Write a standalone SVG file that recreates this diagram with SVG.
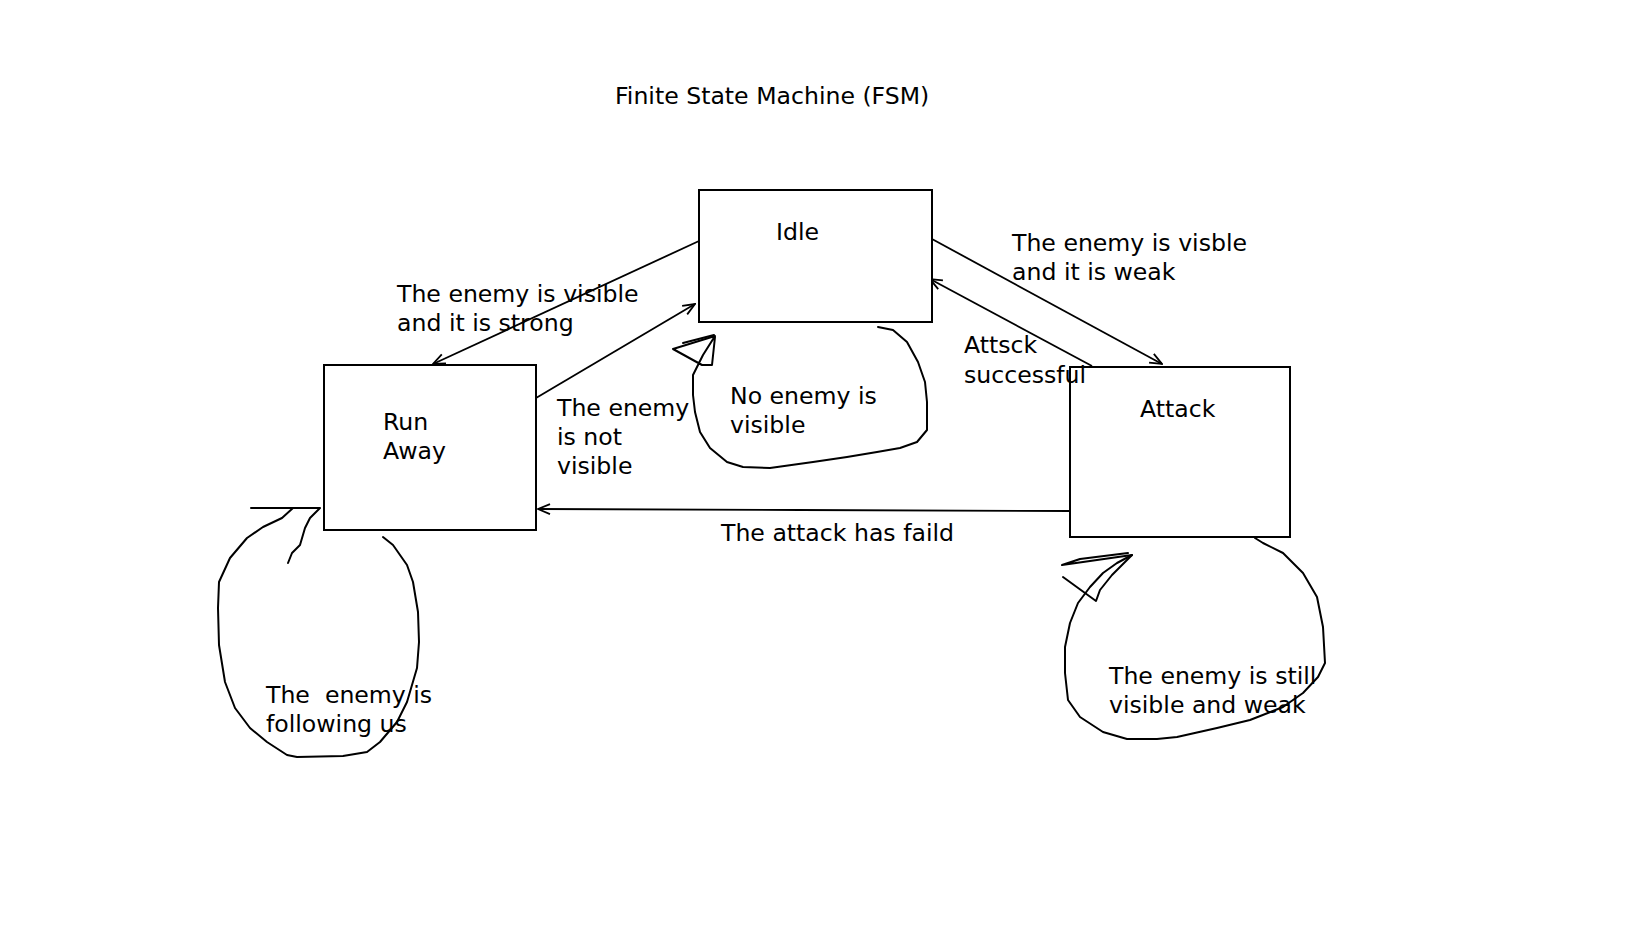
<svg xmlns="http://www.w3.org/2000/svg" width="1648" height="927" viewBox="0 0 1648 927">
<style>
text { font-family: "DejaVu Sans", Verdana, sans-serif; font-size: 23.6px; fill: #000; }
.box { fill: #fff; stroke: #000; stroke-width: 2; }
.edge { fill: none; stroke: #000; stroke-width: 1.8; }
.hand { fill: none; stroke: #000; stroke-width: 2; stroke-linejoin: round; stroke-linecap: round; }
</style>
<defs>
<marker id="arr" viewBox="0 0 14 12" refX="13" refY="6" markerWidth="14" markerHeight="12" markerUnits="userSpaceOnUse" orient="auto">
<path d="M1,1 L13,6 L1,11" fill="none" stroke="#000" stroke-width="1.8"/>
</marker>
</defs>
<rect width="1648" height="927" fill="#fff"/>
<text x="615" y="104">Finite State Machine (FSM)</text>

<g id="connectors">
<line class="edge" x1="699" y1="241" x2="433" y2="364" marker-end="url(#arr)"/>
<line class="edge" x1="536" y1="398" x2="695" y2="304" marker-end="url(#arr)"/>
<line class="edge" x1="932" y1="239" x2="1162" y2="364" marker-end="url(#arr)"/>
<line class="edge" x1="1092" y1="366" x2="930" y2="279" marker-end="url(#arr)"/>
<polyline class="edge" points="1069,511 800,510 538,509" marker-end="url(#arr)"/>
<path class="hand" d="M878,327 L893,330 L907,342 L918,362 L925,382 L927,402 L927,430 L917,442 L900,448 L877,452 L847,457 L813,462 L770,468 L743,467 L727,462 L710,448 L700,432 L695,412 L693,395 L693,375 L703,355 L715,336 L673,349 L702,365 L712,365 L715,337"/>
<path class="hand" d="M683,343 L714,335"/>
<path class="hand" d="M251,508 L320,508 L310,518 L305,528 L300,545 L292,553 L288,563"/>
<path class="hand" d="M293,508 L282,518 L263,527 L247,538 L230,558 L219,582 L218,608 L219,645 L225,682 L235,708 L250,728 L267,742 L287,755 L297,757 L343,756 L367,752 L380,742 L397,722 L407,702 L417,668 L419,642 L418,612 L413,582 L407,565 L393,545 L383,537"/>
<path class="hand" d="M1255,538 L1263,543 L1283,553 L1303,573 L1317,597 L1323,627 L1325,663 L1318,677 L1303,693 L1283,707 L1250,720 L1217,728 L1177,737 L1157,739 L1127,739 L1103,732 L1080,717 L1068,700 L1065,673 L1065,647 L1070,623 L1078,603 L1090,587 L1103,573 L1117,563 L1132,555"/>
<path class="hand" d="M1063,577 L1096,601 L1100,590 L1112,575 L1132,555 L1062,565 L1080,559 L1128,553"/>
</g>

<g id="idle">
<rect class="box" x="699" y="190" width="233" height="132"/>
<text x="776" y="240">Idle</text>
</g>
<g id="runaway">
<rect class="box" x="324" y="365" width="212" height="165"/>
<text x="383" y="430">Run</text>
<text x="383" y="459">Away</text>
</g>
<g id="attack">
<rect class="box" x="1070" y="367" width="220" height="170"/>
<text x="1140" y="417">Attack</text>
</g>

<g id="labels">
<text x="397" y="302">The enemy is visible</text>
<text x="397" y="331">and it is strong</text>
<text x="1012" y="251">The enemy is visble</text>
<text x="1012" y="280">and it is weak</text>
<text x="964" y="353">Attsck</text>
<text x="964" y="383">successful</text>
<text x="557" y="416">The enemy</text>
<text x="557" y="445">is not</text>
<text x="557" y="474">visible</text>
<text x="730" y="404">No enemy is</text>
<text x="730" y="433">visible</text>
<text x="721" y="541">The attack has faild</text>
<text x="266" y="703" xml:space="preserve">The  enemy is</text>
<text x="266" y="732">following us</text>
<text x="1109" y="684">The enemy is still</text>
<text x="1109" y="713">visible and weak</text>
</g>
</svg>
